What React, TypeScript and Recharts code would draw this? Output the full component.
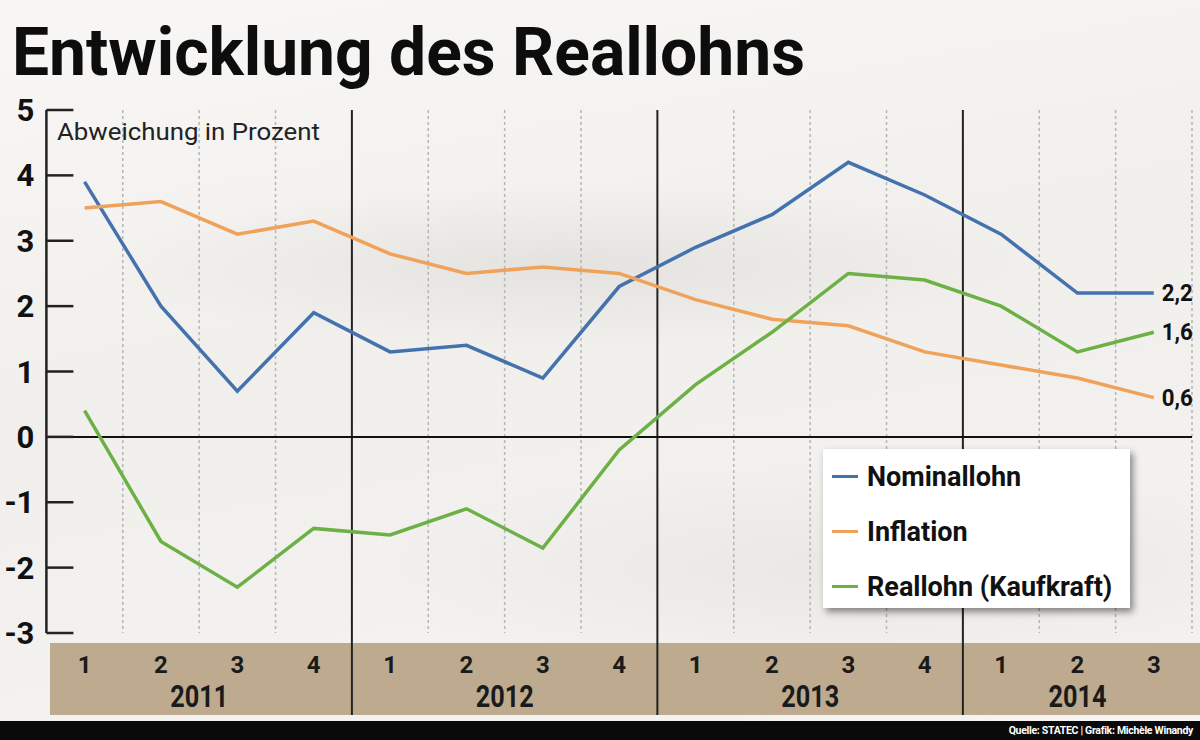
import React from "react";
import {
  LineChart,
  Line,
  XAxis,
  YAxis,
  CartesianGrid,
  ReferenceLine,
  Legend,
  LabelList,
} from "recharts";

// quarters (year-quarter)
const periods = [
  "2011-1", "2011-2", "2011-3", "2011-4",
  "2012-1", "2012-2", "2012-3", "2012-4",
  "2013-1", "2013-2", "2013-3", "2013-4",
  "2014-1", "2014-2", "2014-3",
];
const nominallohn = [3.9, 2.0, 0.7, 1.9, 1.3, 1.4, 0.9, 2.3, 2.9, 3.4, 4.2, 3.7, 3.1, 2.2, 2.2];
const inflation = [3.5, 3.6, 3.1, 3.3, 2.8, 2.5, 2.6, 2.5, 2.1, 1.8, 1.7, 1.3, 1.1, 0.9, 0.6];
const reallohn = [0.4, -1.6, -2.3, -1.4, -1.5, -1.1, -1.7, -0.2, 0.8, 1.6, 2.5, 2.4, 2.0, 1.3, 1.6];
const yTicks = [-3, -2, -1, 0, 1, 2, 3, 4, 5];
const seriesNames = ["Nominallohn", "Inflation", "Reallohn (Kaufkraft)"];

const data = periods.map((p, i) => ({
  period: p,
  nominallohn: nominallohn[i],
  inflation: inflation[i],
  reallohn: reallohn[i],
}));

const W = 1200;
const H = 740;
const PLOT_LEFT = 46.4;
const PLOT_RIGHT = 1192;
const PLOT_TOP = 110;
const BAND = (PLOT_RIGHT - PLOT_LEFT) / periods.length;

const FONT = "Roboto, sans-serif";

const BLUE = "#4472ae";
const ORANGE = "#f0a25a";
const GREEN = "#6cb046";

const quarterOf = (p: string) => p.split("-")[1];
const yearOf = (p: string) => p.split("-")[0];

// grid positions at the band boundaries
const dashedX = periods
  .map((p, i) => ({ p, x: PLOT_LEFT + i * BAND }))
  .filter((d, i) => i > 0 && quarterOf(d.p) !== "1")
  .map((d) => d.x)
  .concat([PLOT_RIGHT]);
const yearX = periods
  .map((p, i) => ({ p, x: PLOT_LEFT + i * BAND }))
  .filter((d, i) => i > 0 && quarterOf(d.p) === "1")
  .map((d) => d.x);

const YTick = (props: any) => {
  const { x, y, payload } = props;
  return (
    <g>
      <line x1={x} x2={x + 27} y1={y} y2={y} stroke="#222" strokeWidth={2.5} />
      <text
        x={x - 12}
        y={y}
        dy={11}
        textAnchor="end"
        fontFamily={FONT}
        fontWeight={700}
        fontSize={31}
        fill="#111"
      >
        {payload.value}
      </text>
    </g>
  );
};

const XTick = (props: any) => {
  const { x, y, payload, index } = props;
  const p = String(payload.value);
  const q = quarterOf(p);
  const year = yearOf(p);
  const count = periods.filter((d) => yearOf(d) === year).length;
  const left = x - BAND / 2;
  return (
    <g>
      {index === 0 && (
        <rect x={left + 3.6} y={y + 10} width={W - left - 3.6} height={72} fill="#bdaa8f" />
      )}
      {q === "1" && index > 0 && (
        <line x1={left} x2={left} y1={y} y2={y + 82} stroke="#222" strokeWidth={2} />
      )}
      <text
        x={x}
        y={y + 40}
        textAnchor="middle"
        fontFamily={FONT}
        fontWeight={700}
        fontSize={24}
        fill="#1a1a1a"
      >
        {q}
      </text>
      {q === "1" && (
        <text
          x={x + ((count - 1) * BAND) / 2}
          y={y + 74}
          textAnchor="middle"
          fontFamily={FONT}
          fontWeight={700}
          fontSize={32}
          fill="#1a1a1a"
          textLength={58}
          lengthAdjust="spacingAndGlyphs"
        >
          {year}
        </text>
      )}
    </g>
  );
};

const EndLabel = (props: any) => {
  const { x, y, value, index } = props;
  if (index !== periods.length - 1) return null;
  return (
    <text
      x={x + 8}
      y={y}
      dy={8}
      fontFamily={FONT}
      fontWeight={700}
      fontSize={23}
      fill="#111"
      textLength={31}
      lengthAdjust="spacingAndGlyphs"
    >
      {Number(value).toFixed(1).replace(".", ",")}
    </text>
  );
};

const LegendBox = (props: any) => {
  const items = [...(props.payload || [])].sort(
    (a: any, b: any) => seriesNames.indexOf(a.value) - seriesNames.indexOf(b.value)
  );
  return (
    <div
      style={{
        background: "#fff",
        width: 307,
        height: 159,
        boxShadow: "3px 4px 7px rgba(0,0,0,0.45)",
        boxSizing: "border-box",
        paddingTop: 0,
      }}
    >
      {items.map((entry: any, i: number) => (
        <div
          key={entry.value}
          style={{
            display: "flex",
            alignItems: "center",
            height: 55,
            marginTop: i === 0 ? -3 : 0,
            whiteSpace: "nowrap",
          }}
        >
          <span
            style={{
              display: "inline-block",
              width: 26,
              height: 3,
              marginLeft: 9,
              marginRight: 9,
              background: entry.color,
            }}
          />
          <span
            style={{
              fontFamily: FONT,
              fontWeight: 700,
              fontSize: 27,
              color: "#111",
            }}
          >
            {entry.value}
          </span>
        </div>
      ))}
    </div>
  );
};

export default function App() {
  return (
    <div
      style={{
        position: "absolute",
        left: 0,
        top: 0,
        width: W,
        height: H,
        overflow: "hidden",
        background:
          "radial-gradient(ellipse 460px 80px at 560px 265px, rgba(205,201,196,0.35), rgba(0,0,0,0)), radial-gradient(ellipse 520px 110px at 880px 570px, rgba(215,211,205,0.35), rgba(0,0,0,0)), linear-gradient(170deg, #f8f7f5 0%, #f0efec 45%, #f5f4f2 100%)",
      }}
    >
      <svg style={{ position: "absolute", left: 0, top: 0 }} width={W} height={100}>
        <text
          x={12}
          y={75}
          fontFamily={FONT}
          fontWeight={700}
          fontSize={66}
          fill="#0d0d0d"
          textLength={793}
          lengthAdjust="spacingAndGlyphs"
        >
          Entwicklung des Reallohns
        </text>
      </svg>
      <div style={{ position: "absolute", left: 0, top: 0 }}>
        <LineChart
          width={W}
          height={H}
          data={data}
          margin={{ top: PLOT_TOP, right: W - PLOT_RIGHT, bottom: 25, left: 0 }}
        >
          <CartesianGrid
            horizontal={false}
            verticalPoints={dashedX}
            stroke="#b5b5b5"
            strokeDasharray="3 3"
            strokeWidth={1.5}
          />
          <CartesianGrid
            horizontal={false}
            verticalPoints={yearX}
            stroke="#222"
            strokeWidth={2}
          />
          <XAxis
            dataKey="period"
            scale="band"
            interval={0}
            height={82}
            tickSize={0}
            tickMargin={0}
            axisLine={false}
            tickLine={false}
            tick={<XTick />}
          />
          <YAxis
            width={PLOT_LEFT}
            domain={[-3, 5]}
            ticks={yTicks}
            interval={0}
            tickSize={0}
            tickMargin={0}
            axisLine={{ stroke: "#222", strokeWidth: 2.5 }}
            tickLine={false}
            tick={<YTick />}
          />
          <ReferenceLine y={0} stroke="#111" strokeWidth={2} />
          <text
            x={57}
            y={140}
            fontFamily={FONT}
            fontSize={24}
            fill="#222"
            textLength={263}
            lengthAdjust="spacingAndGlyphs"
          >
            Abweichung in Prozent
          </text>
          <Legend
            layout="horizontal"
            verticalAlign="middle"
            align="center"
            content={<LegendBox />}
            wrapperStyle={{ left: 823, top: 452, width: 307, height: 159 }}
          />
          <Line
            name="Nominallohn"
            dataKey="nominallohn"
            stroke={BLUE}
            strokeWidth={3.5}
            dot={false}
            isAnimationActive={false}
          >
            <LabelList dataKey="nominallohn" content={<EndLabel />} />
          </Line>
          <Line
            name="Inflation"
            dataKey="inflation"
            stroke={ORANGE}
            strokeWidth={3.5}
            dot={false}
            isAnimationActive={false}
          >
            <LabelList dataKey="inflation" content={<EndLabel />} />
          </Line>
          <Line
            name="Reallohn (Kaufkraft)"
            dataKey="reallohn"
            stroke={GREEN}
            strokeWidth={3.5}
            dot={false}
            isAnimationActive={false}
          >
            <LabelList dataKey="reallohn" content={<EndLabel />} />
          </Line>
        </LineChart>
      </div>
      <div
        style={{
          position: "absolute",
          left: 0,
          top: 721,
          width: W,
          height: 19,
          background: "#0a0a0a",
          color: "#fff",
          fontFamily: FONT,
          fontWeight: 700,
          fontSize: 10.5,
          lineHeight: "19px",
          textAlign: "right",
          paddingRight: 7,
          boxSizing: "border-box",
          letterSpacing: -0.3,
        }}
      >
        Quelle: STATEC | Grafik: Michèle Winandy
      </div>
    </div>
  );
}
